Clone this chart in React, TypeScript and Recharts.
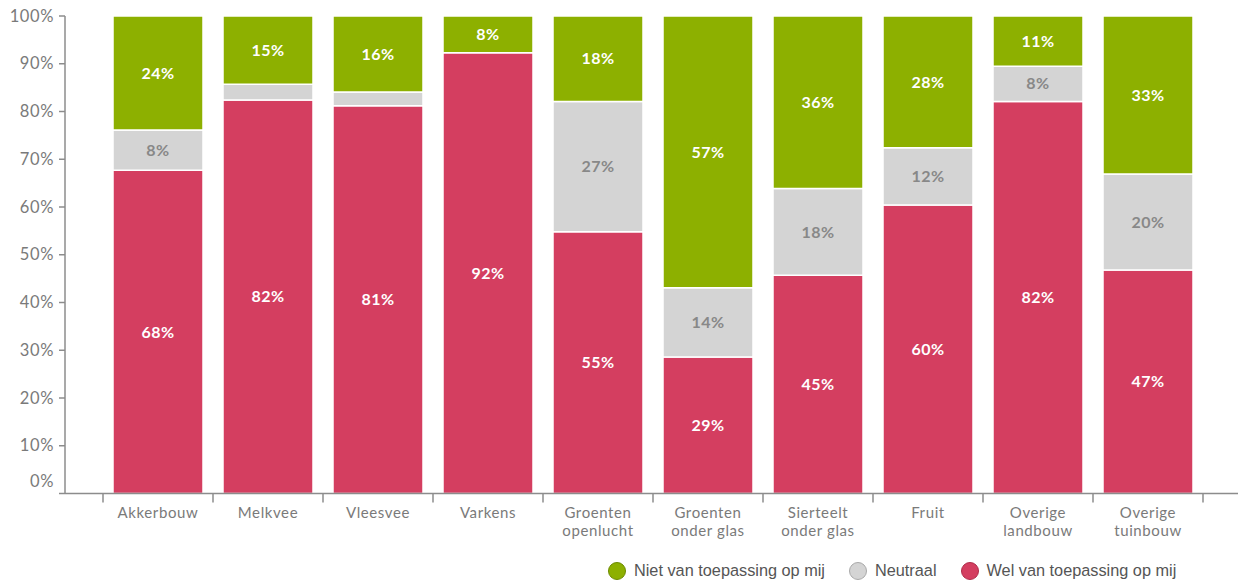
import React from 'react';
import { BarChart, Bar, XAxis, YAxis, LabelList, Legend } from 'recharts';

const categories = [
  'Akkerbouw',
  'Melkvee',
  'Vleesvee',
  'Varkens',
  'Groenten\nopenlucht',
  'Groenten\nonder glas',
  'Sierteelt\nonder glas',
  'Fruit',
  'Overige\nlandbouw',
  'Overige\ntuinbouw',
];
const welValues = [67.7, 82.4, 81.2, 92.3, 54.8, 28.6, 45.7, 60.4, 82.1, 46.8];
const neutraalValues = [8.4, 3.3, 2.9, 0, 27.3, 14.5, 18.2, 12.0, 7.4, 20.1];
const nietValues = [23.9, 14.3, 15.9, 7.7, 17.9, 56.9, 36.1, 27.6, 10.5, 33.1];
const welLabels = ['68%', '82%', '81%', '92%', '55%', '29%', '45%', '60%', '82%', '47%'];
const neutraalLabels = ['8%', '', '', '', '27%', '14%', '18%', '12%', '8%', '20%'];
const nietLabels = ['24%', '15%', '16%', '8%', '18%', '57%', '36%', '28%', '11%', '33%'];
const yTicks = [0, 10, 20, 30, 40, 50, 60, 70, 80, 90, 100];

const seriesNames = {
  wel: 'Wel van toepassing op mij',
  neutraal: 'Neutraal',
  niet: 'Niet van toepassing op mij',
};

const COLORS = { wel: '#d43e60', neutraal: '#d4d4d4', niet: '#8db000' };
const LEGEND_STROKE = { wel: '#b02c4a', neutraal: '#a9a9a9', niet: '#6c8a00' };

const data = categories.map((name, i) => ({
  name,
  wel: welValues[i],
  neutraal: neutraalValues[i],
  niet: nietValues[i],
  welLabel: welLabels[i],
  neutraalLabel: neutraalLabels[i],
  nietLabel: nietLabels[i],
}));

const W = 1242;
const H = 583;
const HALF_BAND = 55;
const AXIS_COLOR = '#8c8c8c';
const FONT = 'Lato, "Open Sans", sans-serif';

const XTick = (props: any) => {
  const { x, y, payload, index } = props;
  const lines = String(payload.value).split('\n');
  return (
    <g>
      <line x1={x - HALF_BAND} x2={x - HALF_BAND} y1={y} y2={y + 9} stroke={AXIS_COLOR} strokeWidth={1.5} />
      {index === categories.length - 1 && (
        <line x1={x + HALF_BAND} x2={x + HALF_BAND} y1={y} y2={y + 9} stroke={AXIS_COLOR} strokeWidth={1.5} />
      )}
      <text x={x} y={y} textAnchor="middle" fill="#7a7a7a" fontSize={15} fontFamily={FONT} letterSpacing={0.6}>
        {lines.map((l, i) => (
          <tspan key={i} x={x} dy={i === 0 ? 24 : 18}>
            {l}
          </tspan>
        ))}
      </text>
    </g>
  );
};

const YTick = (props: any) => {
  const { x, y, payload } = props;
  const shift = payload.value === 0 ? -12 : 0;
  return (
    <text x={x} y={y + shift} dy={5.5} textAnchor="end" fill="#7a7a7a" fontSize={16.5} fontFamily={FONT} letterSpacing={0.6}>
      {`${payload.value}%`}
    </text>
  );
};

const LegendContent = () => {
  const order: Array<'niet' | 'neutraal' | 'wel'> = ['niet', 'neutraal', 'wel'];
  return (
    <div style={{ display: 'flex', alignItems: 'center', fontFamily: '"Liberation Sans", Arial, sans-serif', fontSize: 16.3, color: '#555', whiteSpace: 'nowrap' }}>
      {order.map((k, i) => (
        <div key={k} style={{ display: 'flex', alignItems: 'center', marginLeft: i === 0 ? 0 : 24 }}>
          <span
            style={{
              display: 'inline-block',
              width: 16,
              height: 16,
              borderRadius: '50%',
              background: COLORS[k],
              border: `1.5px solid ${LEGEND_STROKE[k]}`,
              marginRight: 8,
            }}
          />
          <span>{seriesNames[k]}</span>
        </div>
      ))}
    </div>
  );
};

const labelStyle = (fill: string) => ({
  fill,
  fontSize: 16,
  fontWeight: 700,
  fontFamily: FONT,
  letterSpacing: 0.5,
});

export default function App() {
  return (
    <div style={{ position: 'absolute', left: 0, top: 0, width: W, height: H, background: '#fff' }}>
      <BarChart width={W} height={H} data={data} margin={{ top: 16, right: 4, left: 0, bottom: 0 }} barCategoryGap={10}>
        <XAxis
          dataKey="name"
          interval={0}
          padding={{ left: 38, right: 35 }}
          height={89.5}
          axisLine={{ stroke: AXIS_COLOR, strokeWidth: 1.5 }}
          tickLine={false}
          tickSize={0}
          tickMargin={0}
          tick={<XTick />}
        />
        <YAxis
          width={65}
          domain={[0, 100]}
          ticks={yTicks}
          interval={0}
          axisLine={{ stroke: AXIS_COLOR, strokeWidth: 1.5 }}
          tickLine={{ stroke: AXIS_COLOR, strokeWidth: 1.5 }}
          tickSize={6}
          tickMargin={5}
          tick={<YTick />}
        />
        <Legend
          layout="horizontal"
          verticalAlign="middle"
          align="center"
          content={<LegendContent />}
          wrapperStyle={{ top: 561, left: 608, width: 'auto', height: 20 }}
        />
        <Bar dataKey="wel" name={seriesNames.wel} stackId="a" fill={COLORS.wel} stroke="#fff" strokeWidth={1.5} isAnimationActive={false}>
          <LabelList dataKey="welLabel" position="center" style={labelStyle('#fff')} />
        </Bar>
        <Bar dataKey="neutraal" name={seriesNames.neutraal} stackId="a" fill={COLORS.neutraal} stroke="#fff" strokeWidth={1.5} isAnimationActive={false}>
          <LabelList dataKey="neutraalLabel" position="center" style={labelStyle('#888')} />
        </Bar>
        <Bar dataKey="niet" name={seriesNames.niet} stackId="a" fill={COLORS.niet} stroke="#fff" strokeWidth={1.5} isAnimationActive={false}>
          <LabelList dataKey="nietLabel" position="center" style={labelStyle('#fff')} />
        </Bar>
      </BarChart>
    </div>
  );
}
